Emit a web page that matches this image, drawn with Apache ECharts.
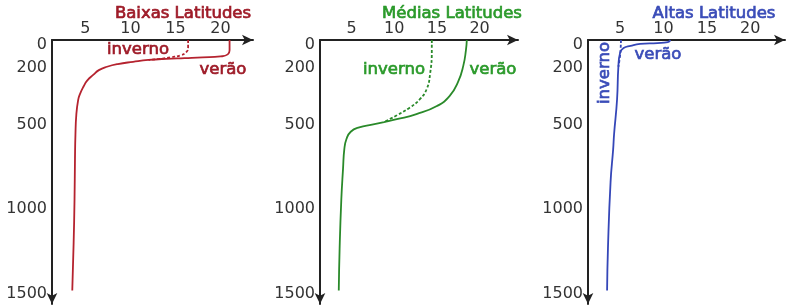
<!DOCTYPE html>
<html>
<head>
<meta charset="utf-8">
<script src="https://cdn.jsdelivr.net/npm/echarts@6/dist/echarts.min.js"></script>
<style>
  html, body { margin: 0; padding: 0; background: #fff; }
  #main { width: 790px; height: 308px; }
</style>
</head>
<body>
<div id="main"></div>
<script>
// profundidade (m) e temperatura (°C)
var depthTicks = [0, 200, 500, 1000, 1500];
var tempTicks = [5, 10, 15, 20];
var panelTitles = ['Baixas Latitudes', 'Médias Latitudes', 'Altas Latitudes'];

// pares [temperatura, profundidade]
var baixasVerao = [[21,0],[21,60],[20.8,85],[20,97],[18,103],[16,107],[14,111],[12,118],[10.3,129],
    [8.6,142],[7.4,158],[6.5,178],[5.9,205],[5.2,240],[4.8,275],[4.4,320],[4.2,355],[4.0,440],
    [3.9,560],[3.85,700],[3.8,940],[3.7,1200],[3.55,1480]];
var baixasInverno = [[16.4,0],[16.4,45],[16.2,72],[15.6,90],[14.5,102],[13.2,112],[12,118]];

var mediasVerao = [[18.5,0],[18.4,60],[18.1,150],[17.5,245],[16.5,330],[15,390],[12.6,438],[10.3,468],
    [8.8,485],[7.4,500],[5.9,516],[4.9,542],[4.4,585],[4.15,645],[4.0,760],[3.8,940],[3.6,1230],[3.5,1480]];
var mediasInverno = [[14.4,0],[14.4,60],[14.2,200],[13.8,290],[13,350],[11.8,400],[10.3,445],[8.8,485]];

var altasVerao = [[10.8,0],[10.5,12],[9.3,18],[7.3,23],[6.2,35],[5.4,48],[5.0,76],[4.8,158],[4.65,350],
    [4.3,560],[4.2,645],[3.9,840],[3.6,1230],[3.5,1480]];
var altasInverno = [[5.1,0],[5.05,60],[4.95,110],[4.8,158]];

var seriesData = [
  [baixasVerao, baixasInverno],
  [mediasVerao, mediasInverno],
  [altasVerao, altasInverno]
];

var titleColors = ['#9e1b28', '#2b9a2b', '#3a4cb8'];
var lineColors = ['#b5232f', '#2a8a2a', '#3547b8'];
var gridLeft = [52, 320, 588];
var gridWidth = [201, 198, 197];
var xMax = [23.6, 24.5, 24];
var xMin = 1.3;

var myChart = echarts.init(document.getElementById('main'));

var grids = [], xAxes = [], yAxes = [], series = [];
for (var i = 0; i < 3; i++) {
    grids.push({ left: gridLeft[i], width: gridWidth[i], top: 40, bottom: 4 });
    xAxes.push({
        gridIndex: i, type: 'value', position: 'top', min: xMin, max: xMax[i],
        axisLine: { onZero: false, lineStyle: { color: '#222', width: 2 }, symbol: ['none', 'arrow'], symbolSize: [8, 11] },
        axisTick: { show: false },
        splitLine: { show: false },
        axisLabel: { customValues: tempTicks, margin: 3, color: '#333', fontSize: 16, fontFamily: 'DejaVu Sans' }
    });
    yAxes.push({
        gridIndex: i, type: 'value', inverse: true, min: 0, max: 1560,
        axisLine: { onZero: false, lineStyle: { color: '#222', width: 2 }, symbol: ['arrow', 'none'], symbolSize: [8, 11] },
        axisTick: { show: false },
        splitLine: { show: false },
        axisLabel: {
            customValues: depthTicks, margin: 5, color: '#333', fontSize: 16, fontFamily: 'DejaVu Sans',
            formatter: function (v) {
                if (v === 0) return '{down|0}';
                if (v === 200) return '{up|200}';
                return v;
            },
            rich: {
                down: { padding: [10, 0, 0, 0], color: '#333', fontSize: 16, fontFamily: 'DejaVu Sans' },
                up: { padding: [0, 0, 12, 0], color: '#333', fontSize: 16, fontFamily: 'DejaVu Sans' }
            }
        }
    });
    series.push({
        name: 'verão', type: 'line', xAxisIndex: i, yAxisIndex: i, data: seriesData[i][0],
        showSymbol: false, smooth: 0.5,
        lineStyle: { color: lineColors[i], width: 1.8 }
    });
    series.push({
        name: 'inverno', type: 'line', xAxisIndex: i, yAxisIndex: i, data: seriesData[i][1],
        showSymbol: false, smooth: 0.5,
        lineStyle: { color: lineColors[i], width: 1.8, type: [3, 2] }
    });
}

// textos dentro da figura (títulos e rótulos)
function label(text, x, y, color, rot) {
    return {
        type: 'text', x: x, y: y, rotation: rot || 0,
        style: {
            text: text, fill: color, font: '16.5px "DejaVu Sans"', textAlign: 'center', textVerticalAlign: 'middle',
            stroke: color, lineWidth: 0.7
        }
    };
}

var option = {
    animation: false,
    grid: grids,
    xAxis: xAxes,
    yAxis: yAxes,
    series: series,
    graphic: [
        label(panelTitles[0], 183, 14, titleColors[0]),
        label(panelTitles[1], 452, 14, titleColors[1]),
        label(panelTitles[2], 714, 14, titleColors[2]),
        label('inverno', 138, 50, titleColors[0]),
        label('verão', 223, 70, titleColors[0]),
        label('inverno', 394, 70, titleColors[1]),
        label('verão', 493, 70, titleColors[1]),
        label('inverno', 605, 73, titleColors[2], Math.PI / 2),
        label('verão', 658, 55, titleColors[2])
    ]
};
myChart.setOption(option);
</script>
</body>
</html>
